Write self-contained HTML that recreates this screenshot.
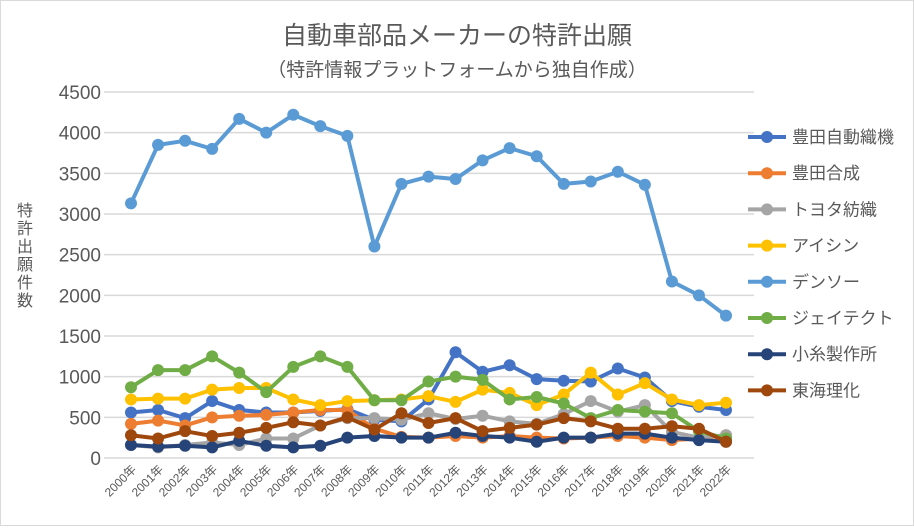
<!DOCTYPE html>
<html><head><meta charset="utf-8"><style>
body{margin:0;background:#fff;}
#wrap{position:relative;width:914px;height:526px;font-family:"Liberation Sans","Noto Sans CJK JP",sans-serif;}
svg text{font-family:"Liberation Sans","Noto Sans CJK JP",sans-serif;}
</style></head><body>
<div id="wrap">
<svg id="chart" width="914" height="526">
<rect x="0.5" y="0.5" width="913" height="525" fill="#fff" stroke="#d9d9d9"/>
<text x="457" y="44" text-anchor="middle" font-size="25" fill="#595959">自動車部品メーカーの特許出願</text>
<text x="457" y="76" text-anchor="middle" font-size="19" fill="#595959">（特許情報プラットフォームから独自作成）</text>
<text x="25" y="216" font-size="16" fill="#595959" text-anchor="middle"><tspan x="25" dy="0">特</tspan><tspan x="25" dy="18">許</tspan><tspan x="25" dy="18">出</tspan><tspan x="25" dy="18">願</tspan><tspan x="25" dy="18">件</tspan><tspan x="25" dy="18">数</tspan></text>
<g id="grid"></g><g id="series"></g><g id="legend"></g>
</svg>
</div>
<script>
const years=["2000年","2001年","2002年","2003年","2004年","2005年","2006年","2007年","2008年","2009年","2010年","2011年","2012年","2013年","2014年","2015年","2016年","2017年","2018年","2019年","2020年","2021年","2022年"];
const yTicks=[0,500,1000,1500,2000,2500,3000,3500,4000,4500];
const seriesNames=["豊田自動織機","豊田合成","トヨタ紡織","アイシン","デンソー","ジェイテクト","小糸製作所","東海理化"];
const seriesColors=["#4472c4","#ed7d31","#a5a5a5","#ffc000","#5b9bd5","#70ad47","#264478","#9e480e"];
const shokki=[560,590,490,700,590,560,560,580,600,470,450,720,1300,1060,1140,970,950,940,1100,990,700,630,590];
const gosei=[420,460,400,500,520,530,560,590,590,360,260,250,270,250,270,250,240,250,270,250,220,240,280];
const boshoku=[160,130,160,190,160,240,240,400,490,490,470,550,480,520,450,420,540,700,570,650,320,250,280];
const aisin=[720,730,730,840,860,860,720,650,700,710,720,760,690,840,800,650,780,1050,780,920,720,650,680];
const denso=[3130,3850,3900,3800,4170,4000,4220,4080,3960,2600,3370,3460,3430,3660,3810,3710,3370,3400,3520,3360,2170,2000,1750];
const jtekt=[870,1080,1080,1250,1050,810,1120,1250,1120,710,710,940,1000,960,720,750,670,490,590,570,550,330,240];
const koito=[160,140,150,130,210,150,130,150,250,270,250,250,310,270,250,200,250,250,300,300,250,220,200];
const tokai=[280,240,330,270,310,370,440,400,500,350,550,430,490,330,370,410,490,450,360,360,390,360,200];
const allSeries=[shokki,gosei,boshoku,aisin,denso,jtekt,koito,tokai];
const NS="http://www.w3.org/2000/svg";
const x0=104,x1=754,yB=458,yT=92,maxV=4500;
const px0=131,px1=726;
const xs=i=>px0+(px1-px0)*i/(years.length-1);
const ys=v=>yB-(yB-yT)*v/maxV;
function mk(t,a,p){const e=document.createElementNS(NS,t);for(const k in a)e.setAttribute(k,a[k]);p.appendChild(e);return e;}
const grid=document.getElementById('grid');
yTicks.forEach(v=>{
 const l=mk('line',{x1:x0,x2:x1,y1:ys(v),y2:ys(v),stroke:'#d9d9d9','stroke-width':1.5},grid);
 
 
 const t=mk('text',{x:x0-3,y:ys(v)+7,'text-anchor':'end','font-size':19,fill:'#595959'},grid);
 t.textContent=v;
 
 
});
years.forEach((y,i)=>{
 const t=mk('text',{x:xs(i)+6,y:470,'text-anchor':'end','font-size':12,fill:'#595959',transform:`rotate(-45 ${xs(i)+6} 470)`},grid);
 t.textContent=y;
 
 
});
const sg=document.getElementById('series');
allSeries.forEach((d,s)=>{
 const g=mk('g',{},sg);
 
 
 const p=mk('polyline',{points:d.map((v,i)=>xs(i)+','+ys(v)).join(' '),fill:'none',stroke:seriesColors[s],'stroke-width':4,'stroke-linejoin':'round'},g);
 
 
 d.forEach((v,i)=>{
  const c=mk('circle',{cx:xs(i),cy:ys(v),r:6,fill:seriesColors[s]},g);
  
  
 });
});
const lg=document.getElementById('legend');
seriesNames.forEach((n,s)=>{
 const y=137+s*36.2;
 const g=mk('g',{},lg);
 
 
 mk('line',{x1:748,x2:786,y1:y,y2:y,stroke:seriesColors[s],'stroke-width':4},g);
 mk('circle',{cx:767,cy:y,r:6,fill:seriesColors[s]},g);
 const t=mk('text',{x:792,y:y+6,'font-size':17,fill:'#595959'},g);
 t.textContent=n;
});
</script>
</body></html>
